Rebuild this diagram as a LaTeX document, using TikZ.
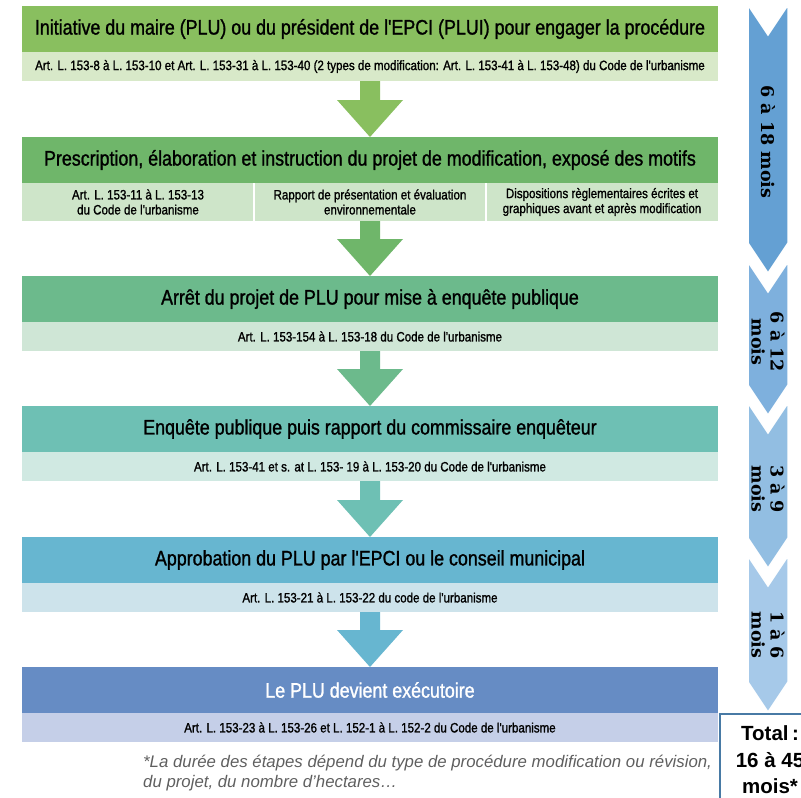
\documentclass[tikz,border=0pt]{standalone}
\usepackage{fontspec}
\setmainfont{Liberation Sans}
\newfontfamily\etroite{Liberation Sans}[FakeStretch=0.85, FakeBold=1.2]
\newfontfamily\dureefont{DejaVu Serif}
\usetikzlibrary{positioning}
\usetikzlibrary{calc}

\definecolor{tete1}{RGB}{137,191,95}
\definecolor{art1}{RGB}{216,233,201}
\definecolor{tete2}{RGB}{111,182,106}
\definecolor{art2}{RGB}{206,229,201}
\definecolor{tete3}{RGB}{108,186,140}
\definecolor{art3}{RGB}{207,230,214}
\definecolor{tete4}{RGB}{110,192,180}
\definecolor{art4}{RGB}{208,233,226}
\definecolor{tete5}{RGB}{103,182,208}
\definecolor{art5}{RGB}{205,227,235}
\definecolor{tete6}{RGB}{102,140,196}
\definecolor{art6}{RGB}{197,207,232}
\definecolor{duree1}{RGB}{100,160,211}
\definecolor{duree2}{RGB}{126,176,221}
\definecolor{duree3}{RGB}{146,190,226}
\definecolor{duree4}{RGB}{166,201,233}
\definecolor{cadre}{RGB}{72,122,165}
\definecolor{note}{RGB}{95,95,95}

\tikzset{
  etape/.style={fill=#1, minimum width=696pt, minimum height=46pt, inner sep=0pt, outer sep=0pt,
    font=\etroite\fontsize{21}{24}\selectfont},
  article/.style={fill=#1, minimum width=696pt, minimum height=29pt, inner sep=0pt, outer sep=0pt,
    align=center, font=\etroite\fontsize{13.6}{15}\selectfont},
  duree/.style={fill=#1, draw=white, line width=1.5pt},
  dureetexte/.style={rotate=-90, align=center, font=\dureefont\bfseries\fontsize{17.5}{19}\selectfont},
}

% grosse fleche entre deux etapes
\newcommand{\fleche}[3]{%
  \fill[#1] ($(#2.south)+(-10,0)$) -- ($(#3.north)+(-10,37)$) -- ($(#3.north)+(-33,37)$) -- (#3.north)
    -- ($(#3.north)+(33,37)$) -- ($(#3.north)+(10,37)$) -- ($(#2.south)+(10,0)$) -- cycle;}
% chevron de duree: couleur, haut, pointe
\newcommand{\chevron}[3]{%
  \path[duree=#1] (748,-#2) -- (768,-#2-30) -- (788,-#2) -- (788,-#3+30) -- (768,-#3) -- (748,-#3+30) -- cycle;}

\begin{document}
\begin{tikzpicture}[x=1pt, y=1pt]
\useasboundingbox (0,0) rectangle (801,-798);
\clip (0,0) rectangle (801,-798);

\node[etape=tete1, anchor=north west] (e1) at (22,-6) {Initiative du maire (PLU) ou du président de l'EPCI (PLUI) pour engager la procédure};
\node[article=art1, below=0pt of e1] (a1) {Art. L. 153-8 à L. 153-10 et Art. L. 153-31 à L. 153-40 (2 types de modification:  Art. L. 153-41 à L. 153-48) du Code de l'urbanisme};

\node[etape=tete2, below=56pt of a1] (e2) {Prescription, élaboration et instruction du projet de modification, exposé des motifs};
\node[article=art2, minimum width=232pt, minimum height=38pt, anchor=north west] (a2g) at (e2.south west) {Art. L. 153-11 à L. 153-13\\du Code de l'urbanisme};
\node[article=art2, minimum width=232pt, minimum height=38pt, right=0pt of a2g] (a2m) {Rapport de présentation et évaluation\\environnementale};
\node[article=art2, minimum width=232pt, minimum height=38pt, right=0pt of a2m] (a2d) {Dispositions règlementaires écrites et\\graphiques avant et après modification};
\draw[white, line width=2pt] (a2g.north east) -- (a2g.south east) (a2m.north east) -- (a2m.south east);

\node[etape=tete3, below=55pt of a2m] (e3) {Arrêt du projet de PLU pour mise à enquête publique};
\node[article=art3, below=0pt of e3] (a3) {Art. L. 153-154 à L. 153-18 du Code de l'urbanisme};

\node[etape=tete4, below=55pt of a3] (e4) {Enquête publique puis rapport du commissaire enquêteur};
\node[article=art4, below=0pt of e4] (a4) {Art. L. 153-41 et s. at L. 153- 19 à L. 153-20 du Code de l'urbanisme};

\node[etape=tete5, below=56pt of a4] (e5) {Approbation du PLU par l'EPCI ou le conseil municipal};
\node[article=art5, below=0pt of e5] (a5) {Art. L. 153-21 à L. 153-22 du code de l'urbanisme};

\node[etape=tete6, below=55pt of a5, text=white] (e6) {Le PLU devient exécutoire};
\node[article=art6, below=0pt of e6] (a6) {Art. L. 153-23 à L. 153-26 et L. 152-1 à L. 152-2 du Code de l'urbanisme};

\fleche{tete1}{a1}{e2}
\fleche{tete2}{a2m}{e3}
\fleche{tete3}{a3}{e4}
\fleche{tete4}{a4}{e5}
\fleche{tete5}{a5}{e6}

\node[anchor=north west, align=left, text=note, font=\itshape\fontsize{16.8}{20}\selectfont, inner sep=0pt] (note) at (143,-755)
  {*La durée des étapes dépend du type de procédure modification ou révision,\\du projet, du nombre d’hectares…};

% durees
\chevron{duree4}{556}{712}
\chevron{duree3}{403}{568}
\chevron{duree2}{262}{415}
\chevron{duree1}{5}{273}
\node[dureetexte] (d1) at (768,-142) {6 à 18 mois};
\node[dureetexte] (d2) at (768,-342) {6 à 12\\mois};
\node[dureetexte] (d3) at (768,-489) {3 à 9\\mois};
\node[dureetexte] (d4) at (768,-635) {1 à 6\\mois};

\node[draw=cadre, line width=2pt, fill=white, minimum width=100pt, minimum height=92pt, anchor=north west,
  align=center, font=\bfseries\fontsize{20.5}{26.5}\selectfont] (total) at (719,-713)
  {Total\,:\\16 à 45\\mois*};
\end{tikzpicture}
\end{document}
